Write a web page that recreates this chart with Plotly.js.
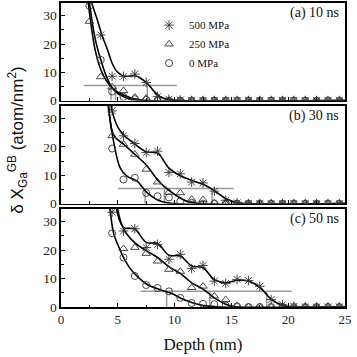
<!DOCTYPE html>
<html>
<head>
<meta charset="utf-8">
<script src="https://cdn.plot.ly/plotly-3.0.1.min.js"></script>
<style>
  html, body { margin: 0; padding: 0; background: #fff; }
  #chart { width: 357px; height: 357px; }
</style>
</head>
<body>
<div id="chart"></div>
<script>
// depth bins (nm)
const depth = [2.5, 3.5, 4.5, 5.5, 6.5, 7.5, 8.5, 9.5, 10.5, 11.5, 12.5, 13.5,
  14.5, 15.5, 16.5, 17.5, 18.5, 19.5, 20.5, 21.5, 22.5, 23.5, 24.5];

const pressures = ['500 MPa', '250 MPa', '0 MPa'];
const panelLabels = ['(a) 10 ns', '(b) 30 ns', '(c) 50 ns'];

// measured excess (atom/nm^2), panel a = 10 ns
const a500 = [36, 23.2, 8.6, 8.6, 9.4, 6.4, 1.4, 0.5, 0.2, 0, 0, 0, 0, 0, 0, 0, 0, 0, 0, 0, 0, 0, 0];
const a250 = [28, 8.4, 4.8, 3.5, 1.2, 0.8, 0.3, 0, 0, 0, 0, 0, 0, 0, 0, 0, 0, 0, 0, 0, 0, 0, 0];
const a0   = [33.5, 14.4, 3.2, 1.3, 0.5, 0.2, 0, 0, 0, 0, 0, 0, 0, 0, 0, 0, 0, 0, 0, 0, 0, 0, 0];
// panel b = 30 ns
const b500 = [40, 38, 32.7, 23.9, 21.2, 18.0, 18.5, 11.0, 10.5, 7.6, 7.3, 4.4, 1.2, 0.3, 0, 0, 0, 0, 0, 0, 0, 0, 0];
const b250 = [40, 38, 23.9, 20.9, 17.4, 12.1, 7.6, 4.0, 3.8, 1.5, 1.4, 0.3, 0, 0, 0, 0, 0, 0, 0, 0, 0, 0, 0];
const b0   = [40, 38, 19.4, 8.5, 9.1, 3.8, 2.6, 2.2, 0.8, 0.3, 0, 0, 0, 0, 0, 0, 0, 0, 0, 0, 0, 0, 0];
// panel c = 50 ns
const c500 = [40, 38, 33.3, 26.7, 27.5, 20.9, 22.0, 16.8, 18.5, 13.5, 14.6, 9.1, 8.3, 9.7, 9.3, 7.3, 2.6, 0.8, 0.2, 0, 0, 0, 0];
const c250 = [40, 38, 36, 20.5, 20.9, 18.8, 16.1, 13.2, 12.5, 6.8, 7.3, 3.8, 2.6, 0.4, 0, 0, 0, 0, 0, 0, 0, 0, 0];
const c0   = [40, 38, 25.9, 17.4, 10.9, 7.7, 6.7, 5.5, 3.2, 1.4, 1.1, 1.0, 0.5, 0.2, 0, 0, 0, 0, 0, 0, 0, 0, 0];

// fitted curves
const fitA500x = [2.6, 3.2, 3.6, 4.1, 4.5, 4.95, 5.5, 6.6, 7.0, 7.6, 8.2, 8.8, 9.7, 10.5, 25];
const fitA500y = [35.6, 28.5, 23.2, 17.9, 13.2, 10.2, 8.7, 8.7, 7.9, 6.1, 3.2, 1.2, 0.25, 0, 0];
const fitA250x = [2.4, 3.0, 3.5, 4.0, 4.5, 5.0, 5.5, 6.0, 6.5, 7.0, 7.5, 25];
const fitA250y = [34.5, 18, 11, 7, 4.6, 3, 2, 1.2, 0.6, 0.2, 0, 0];
const fitA0x = [2.5, 3.0, 3.5, 4.0, 4.5, 5.0, 5.5, 6.0, 6.5, 7.0, 25];
const fitA0y = [34.5, 22, 14.4, 8.5, 4.5, 2.5, 1.4, 0.6, 0.2, 0, 0];

const fitB500x = [4.3, 4.5, 5.0, 5.5, 6.5, 7.5, 8.5, 9.5, 10.5, 11.5, 12.5, 13.5, 14.5, 15.5, 16.5, 25];
const fitB500y = [38, 32.7, 27, 24.3, 21, 18.3, 17.8, 12.5, 9.8, 8.2, 6.8, 4.6, 1.8, 0.3, 0, 0];
const fitB250x = [4.15, 4.5, 4.8, 5.5, 6.5, 7.6, 8.6, 9.7, 11.1, 12.5, 25];
const fitB250y = [36, 25.5, 23.2, 21, 17.4, 13.2, 7.9, 4.1, 0.8, 0, 0];
const fitB0x = [4.1, 4.65, 5.2, 5.8, 6.7, 7.6, 8.8, 10.0, 25];
const fitB0y = [36, 21.5, 12.7, 9.7, 7.9, 3.8, 0.8, 0, 0];

const fitC500x = [4.8, 5.5, 6.5, 7.5, 8.5, 9.5, 10.5, 11.5, 12.5, 13.5, 14.5, 15.5, 16.5, 17.5, 18.5, 19.5, 20.5, 25];
const fitC500y = [36, 28, 27.4, 22.7, 22.3, 18.2, 17.9, 14.4, 13.8, 9.6, 8.5, 9.4, 9.1, 6.9, 2.8, 0.6, 0, 0];
const fitC250x = [4.9, 5.5, 6.5, 7.5, 8.5, 9.5, 10.5, 11.5, 12.5, 13.5, 14.5, 15.5, 25];
const fitC250y = [36, 27.5, 22.5, 19.8, 17.4, 14.2, 11.8, 8.5, 6.3, 3.2, 1.0, 0, 0];
const fitC0x = [4.3, 4.65, 5.1, 5.5, 6.0, 6.6, 7.6, 8.8, 9.7, 10.6, 11.5, 12.2, 13.0, 14.0, 25];
const fitC0y = [35, 25.6, 21, 17.4, 14, 11.2, 7.9, 6.0, 4.8, 3.0, 1.6, 0.8, 0.3, 0, 0];

// penetration-depth markers (gray)
const threshold = [5.3, 5.3, 5.5];
const hLineFrom = [2.0, 5.0, 7.0];
const hLineTo = [10.2, 15.2, 20.3];
const crossDepth = [[4.4, 4.8, 7.6], [7.4, 9.1, 13.3], [9.3, 13.1, 18.1]];

const panels = [
  { xa: 'x3', ya: 'y3', pts: [a500, a250, a0], fit: [[fitA500x, fitA500y], [fitA250x, fitA250y], [fitA0x, fitA0y]] },
  { xa: 'x2', ya: 'y2', pts: [b500, b250, b0], fit: [[fitB500x, fitB500y], [fitB250x, fitB250y], [fitB0x, fitB0y]] },
  { xa: 'x',  ya: 'y',  pts: [c500, c250, c0], fit: [[fitC500x, fitC500y], [fitC250x, fitC250y], [fitC0x, fitC0y]] }
];

const symbols = ['asterisk-open', 'triangle-up-open', 'circle-open'];
const symSize = [8, 7.5, 7];
const serif = "'Liberation Serif', 'Times New Roman', serif";
const markColor = '#333';

const traces = [];
panels.forEach((p, pi) => {
  // gray threshold lines
  const gx = [hLineFrom[pi], hLineTo[pi], null];
  const gy = [threshold[pi], threshold[pi], null];
  crossDepth[pi].forEach(d => { gx.push(d, d, null); gy.push(0, threshold[pi], null); });
  traces.push({
    x: gx, y: gy, xaxis: p.xa, yaxis: p.ya, type: 'scatter', mode: 'lines',
    line: { color: '#999', width: 1.5 }, showlegend: false, hoverinfo: 'skip'
  });
  // fits
  p.fit.forEach(f => {
    traces.push({
      x: f[0], y: f[1], xaxis: p.xa, yaxis: p.ya, type: 'scatter', mode: 'lines',
      line: { color: '#000', width: 1.6, shape: 'spline', smoothing: 1 },
      showlegend: false, hoverinfo: 'skip'
    });
  });
  // points
  p.pts.forEach((vals, si) => {
    traces.push({
      x: depth, y: vals, xaxis: p.xa, yaxis: p.ya, type: 'scatter', mode: 'markers',
      name: pressures[si], showlegend: pi === 0,
      marker: { symbol: symbols[si], size: symSize[si], color: markColor, line: { color: markColor, width: 0.9 } }
    });
  });
});

const xBase = {
  range: [0, 25], dtick: 5, ticks: 'inside', ticklen: 4, tickwidth: 1, tickcolor: '#000',
  showline: true, linewidth: 1.6, linecolor: '#000', mirror: true,
  showgrid: false, zeroline: false,
  minor: { dtick: 2.5, ticks: 'inside', ticklen: 2.5, tickcolor: '#000' },
  tickfont: { family: serif, size: 13, color: '#222' }
};
const yBase = {
  range: [0, 34.5], dtick: 10, ticks: 'inside', ticklen: 4, tickwidth: 1, tickcolor: '#000',
  showline: true, linewidth: 1.6, linecolor: '#000', mirror: true,
  showgrid: false, zeroline: false,
  minor: { dtick: 5, ticks: 'inside', ticklen: 2.5, tickcolor: '#000' },
  tickfont: { family: serif, size: 13.5, color: '#222' }
};

const annotations = panelLabels.map((t, i) => ({
  text: t, xref: ['x3', 'x2', 'x'][i] + ' domain', yref: ['y3', 'y2', 'y'][i] + ' domain',
  x: 0.985, y: 0.895, xanchor: 'right', yanchor: 'middle', showarrow: false,
  font: { family: serif, size: 14, color: '#111' }
}));
annotations.push({
  text: 'δ X<sub>Ga</sub><sup>GB</sup> (atom/nm<sup>2</sup>)',
  xref: 'paper', yref: 'paper', x: -0.152, y: 0.55, xanchor: 'center', yanchor: 'middle',
  textangle: -90, showarrow: false,
  font: { family: "'Liberation Sans', Arial, sans-serif", size: 17, color: '#111' }
});

const layout = {
  width: 357, height: 357,
  margin: { l: 61, r: 12, t: 3, b: 50 },
  paper_bgcolor: '#fff', plot_bgcolor: '#fff',
  showlegend: true,
  legend: {
    x: 0.31, y: 0.975, xanchor: 'left', yanchor: 'top', bgcolor: 'rgba(0,0,0,0)',
    font: { family: serif, size: 11, color: '#111' }, itemwidth: 30, tracegroupgap: 0
  },
  xaxis: Object.assign({}, xBase, { anchor: 'y', domain: [0, 1],
    title: { text: 'Depth (nm)', font: { family: serif, size: 17, color: '#111' }, standoff: 12 } }),
  xaxis2: Object.assign({}, xBase, { anchor: 'y2', domain: [0, 1], showticklabels: false }),
  xaxis3: Object.assign({}, xBase, { anchor: 'y3', domain: [0, 1], showticklabels: false }),
  yaxis: Object.assign({}, yBase, { anchor: 'x', domain: [0, 0.323] }),
  yaxis2: Object.assign({}, yBase, { anchor: 'x2', domain: [0.340, 0.662] }),
  yaxis3: Object.assign({}, yBase, { anchor: 'x3', domain: [0.679, 1] }),
  annotations: annotations
};

Plotly.newPlot('chart', traces, layout, { displayModeBar: false, staticPlot: true });
</script>
</body>
</html>
